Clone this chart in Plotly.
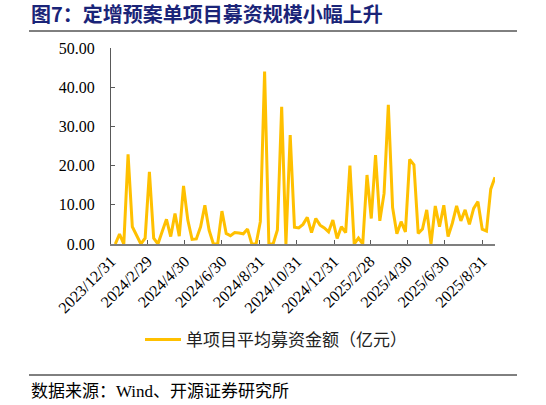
import pandas as pd
import plotly.graph_objects as go

# weekly observations, first week ending 2024-01-07
start_date = "2024-01-07"
avg_raise = [
    0.0, 2.5, 0.0, 22.9, 4.4, 2.0, 0.0, 1.5, 18.4, 1.5,
    0.0, 3.2, 6.3, 1.9, 7.8, 2.0, 14.8, 6.1, 1.2, 1.3,
    4.4, 9.9, 3.5, 0.0, 0.0, 8.4, 2.7, 2.1, 2.9, 2.8,
    2.6, 3.8, 0.0, 0.0, 5.7, 44.0, 0.0, 0.0, 3.6, 35.0,
    0.0, 27.8, 4.3, 4.1, 5.0, 6.8, 2.9, 6.5, 4.8, 4.1,
    3.1, 6.1, 1.4, 4.4, 2.9, 20.0, 0.0, 1.5, 0.0, 17.6,
    6.5, 22.7, 5.9, 12.9, 35.5, 9.3, 2.6, 5.7, 3.1, 21.6,
    20.2, 2.7, 3.8, 8.7, 0.0, 9.7, 4.4, 9.9, 1.9, 5.3,
    9.7, 5.9, 8.7, 5.0, 9.1, 10.8, 3.8, 3.3, 14.0, 17.0,
]
dates = pd.date_range(start_date, periods=len(avg_raise), freq="7D")

tick_dates = ["2023-12-31", "2024-02-29", "2024-04-30", "2024-06-30",
              "2024-08-31", "2024-10-31", "2024-12-31", "2025-02-28",
              "2025-04-30", "2025-06-30", "2025-08-31"]
tick_labels = [f"{d.year}/{d.month}/{d.day}" for d in pd.to_datetime(tick_dates)]

W, H = 546, 405
L, R, T, B = 111, 495, 48, 244  # plot area in pixels


def px(x):
    return (x - L) / (R - L)


def py(y):
    return (B - y) / (B - T)


CJK = "Noto Sans CJK SC"

fig = go.Figure()
fig.add_trace(go.Scatter(
    x=dates, y=avg_raise, mode="lines",
    name="单项目平均募资金额（亿元）",
    line=dict(color="#FFC000", width=3),
))

fig.update_layout(
    width=W, height=H,
    margin=dict(l=L, r=W - R, t=T, b=H - B, autoexpand=False),
    plot_bgcolor="white", paper_bgcolor="white",
    font=dict(family="Liberation Serif, " + CJK, size=16, color="#000000"),
    title=dict(text="<b>图7：定增预案单项目募资规模小幅上升</b>",
               font=dict(family=CJK, size=20, color="#1A2478"),
               xref="container", yref="container",
               x=31 / W, xanchor="left", y=1 - 15 / H, yanchor="middle"),
    showlegend=True,
    legend=dict(orientation="h", x=px(140), y=py(340), xanchor="left", yanchor="middle",
                itemwidth=36,
                font=dict(family=CJK, size=17, color="#222222"), bgcolor="rgba(0,0,0,0)"),
    shapes=[
        dict(type="line", xref="paper", yref="paper", x0=px(29), x1=px(517),
             y0=py(31), y1=py(31), line=dict(color="#000000", width=1)),
        dict(type="line", xref="paper", yref="paper", x0=px(29), x1=px(517),
             y0=py(375), y1=py(375), line=dict(color="#000000", width=1)),
    ],
    annotations=[
        dict(text="数据来源：Wind、开源证券研究所", xref="paper", yref="paper",
             x=px(29), y=py(391), xanchor="left", yanchor="middle", showarrow=False,
             font=dict(family="Liberation Serif, " + CJK, size=17, color="#000000")),
    ],
)

fig.update_xaxes(
    type="date", range=["2023-12-31", dates[-1]],
    tickmode="array", tickvals=tick_dates, ticktext=tick_labels,
    tickangle=-45, ticks="inside", ticklen=4, tickcolor="#595959",
    showline=True, linecolor="#7F7F7F", linewidth=1.5,
    showgrid=False, zeroline=False,
    tickfont=dict(family="Liberation Serif", size=16, color="#000000"),
)
fig.update_yaxes(
    range=[0, 50], dtick=10, tickformat=".2f",
    ticks="inside", ticklen=4, tickcolor="#595959",
    showline=True, linecolor="#595959", linewidth=1,
    showgrid=False, zeroline=False,
    ticklabelstandoff=12,
    tickfont=dict(family="Liberation Serif", size=16, color="#000000"),
)

# page has a default 8px body margin; drop it so the figure sits at the corner
fig.write_html("out.html", config={"displayModeBar": False},
               post_script="document.body.style.margin='0';")
